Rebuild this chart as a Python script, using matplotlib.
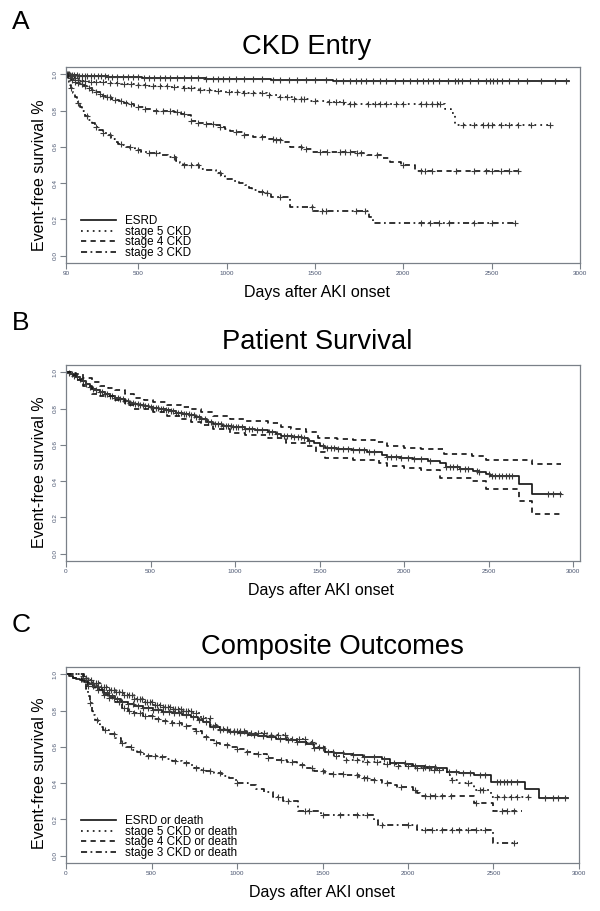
import numpy as np
import matplotlib
matplotlib.use("Agg")
import matplotlib.pyplot as plt

plt.rcParams['font.family'] = ['Liberation Sans', 'DejaVu Sans']

# Kaplan-Meier step points are stored as (day, survival) pairs; *_end = last follow-up day;
# *_c = censoring days (the '+' marks).

# ---------------- Panel A: CKD Entry ----------------
a_labels = ["ESRD", "stage 5 CKD", "stage 4 CKD", "stage 3 CKD"]
a_esrd = [(90, 1.0), (110, 0.997), (130, 0.994), (160, 0.992), (200, 0.99), (260, 0.988), (330, 0.986),
          (420, 0.984), (520, 0.982), (640, 0.98), (760, 0.978), (880, 0.976), (1000, 0.974),
          (1250, 0.97), (1600, 0.962)]
a_esrd_end = 2935
a_esrd_c = [95, 105, 115, 125, 135, 150, 165, 180, 195, 210, 230, 250, 270, 290, 310, 330, 350, 380,
            410, 440, 470, 500, 530, 560, 590, 620, 650, 680, 720, 760, 800, 840, 880, 920, 950, 980,
            1010, 1050, 1100, 1150, 1200, 1260, 1300, 1350, 1400, 1450, 1500, 1560, 1620, 1660, 1700,
            1730, 1760, 1790, 1830, 1870, 1900, 1950, 2000, 2040, 2080, 2110, 2140, 2170, 2200, 2250,
            2290, 2310, 2330, 2380, 2420, 2470, 2490, 2510, 2530, 2560, 2600, 2650, 2700, 2780, 2860, 2920]

a_s5 = [(90, 1.0), (110, 0.99), (130, 0.98), (148, 0.97), (180, 0.965), (220, 0.96), (278, 0.955),
        (330, 0.95), (400, 0.945), (473, 0.94), (560, 0.935), (668, 0.93), (760, 0.922), (841, 0.915),
        (920, 0.908), (993, 0.9), (1100, 0.894), (1230, 0.888), (1296, 0.877), (1380, 0.866),
        (1469, 0.855), (1560, 0.845), (1664, 0.835), (2238, 0.81), (2270, 0.785), (2292, 0.72)]
a_s5_end = 2844
a_s5_c = [100, 120, 140, 160, 180, 200, 230, 260, 300, 340, 380, 420, 460, 500, 540, 580, 620, 660,
          700, 760, 800, 850, 900, 950, 1010, 1060, 1100, 1150, 1200, 1240, 1300, 1340, 1380, 1420,
          1440, 1500, 1580, 1620, 1660, 1700, 1720, 1800, 1840, 1870, 1900, 1960, 2000, 2100, 2130,
          2160, 2190, 2210, 2340, 2400, 2450, 2480, 2500, 2550, 2600, 2650, 2720, 2830]

a_s4 = [(90, 1.0), (100, 0.99), (110, 0.98), (120, 0.97), (135, 0.96), (150, 0.952), (170, 0.945),
        (190, 0.935), (210, 0.925), (235, 0.912), (257, 0.9), (280, 0.89), (300, 0.88), (320, 0.872),
        (345, 0.866), (365, 0.86), (390, 0.85), (420, 0.843), (445, 0.835), (473, 0.825), (500, 0.82),
        (540, 0.81), (571, 0.8), (640, 0.795), (700, 0.79), (740, 0.783), (776, 0.775), (798, 0.74),
        (840, 0.733), (880, 0.727), (928, 0.72), (960, 0.71), (993, 0.7), (1020, 0.69), (1050, 0.68),
        (1100, 0.665), (1150, 0.657), (1230, 0.646), (1280, 0.637), (1318, 0.628), (1361, 0.6),
        (1426, 0.588), (1480, 0.573), (1729, 0.564), (1794, 0.555), (1880, 0.537), (1924, 0.518),
        (1989, 0.5), (2064, 0.469)]
a_s4_end = 2671
a_s4_c = [110, 125, 140, 160, 180, 200, 220, 240, 260, 280, 300, 320, 340, 370, 400, 430, 460, 500,
          540, 600, 640, 680, 720, 760, 800, 840, 880, 920, 960, 1050, 1100, 1200, 1260, 1280, 1300,
          1420, 1450, 1530, 1570, 1640, 1670, 1700, 1740, 1760, 1850, 2000, 2100, 2120, 2160, 2300,
          2400, 2470, 2500, 2550, 2600, 2650]

a_s3 = [(90, 1.0), (95, 0.985), (100, 0.97), (105, 0.955), (110, 0.94), (116, 0.925), (122, 0.91),
        (130, 0.895), (140, 0.875), (150, 0.855), (160, 0.84), (170, 0.82), (180, 0.8), (190, 0.785),
        (200, 0.77), (215, 0.75), (235, 0.73), (255, 0.71), (278, 0.692), (300, 0.678), (322, 0.665),
        (345, 0.645), (365, 0.628), (385, 0.618), (408, 0.61), (430, 0.6), (452, 0.592), (480, 0.58),
        (517, 0.571), (560, 0.564), (620, 0.556), (668, 0.546), (711, 0.52), (735, 0.51), (755, 0.5),
        (841, 0.48), (885, 0.47), (938, 0.454), (970, 0.44), (993, 0.423), (1036, 0.41), (1070, 0.4),
        (1101, 0.39), (1125, 0.375), (1144, 0.363), (1180, 0.352), (1209, 0.344), (1253, 0.326),
        (1361, 0.267), (1491, 0.249), (1805, 0.216), (1826, 0.18)]
a_s3_end = 2638
a_s3_c = [120, 160, 210, 260, 300, 340, 400, 450, 500, 560, 600, 700, 760, 800, 840, 960, 1200, 1230,
          1300, 1480, 1540, 1560, 1730, 1780, 2100, 2150, 2200, 2260, 2400, 2500, 2630]

# ---------------- Panel B: Patient Survival ----------------
b_surv = [(0, 1.0), (15, 0.995), (30, 0.99), (45, 0.982), (61, 0.975), (80, 0.962), (100, 0.95),
          (120, 0.935), (140, 0.918), (152, 0.909), (175, 0.9), (200, 0.89), (230, 0.88), (260, 0.87),
          (288, 0.86), (320, 0.85), (350, 0.84), (375, 0.833), (401, 0.827), (430, 0.82), (460, 0.813),
          (490, 0.808), (514, 0.805), (550, 0.797), (590, 0.79), (620, 0.784), (650, 0.778),
          (690, 0.77), (730, 0.762), (764, 0.755), (800, 0.742), (832, 0.727), (870, 0.716),
          (922, 0.704), (980, 0.697), (1058, 0.685), (1120, 0.68), (1194, 0.673), (1240, 0.66),
          (1273, 0.649), (1340, 0.643), (1398, 0.636), (1430, 0.622), (1466, 0.609), (1500, 0.595),
          (1534, 0.582), (1600, 0.576), (1693, 0.569), (1780, 0.562), (1851, 0.558), (1870, 0.545),
          (1897, 0.533), (1980, 0.528), (2055, 0.522), (2140, 0.512), (2214, 0.5), (2248, 0.476),
          (2330, 0.468), (2406, 0.458), (2440, 0.45), (2486, 0.442), (2509, 0.427), (2678, 0.385),
          (2758, 0.331)]
b_end = 2928
b_upper = [(0, 1.0), (30, 0.995), (61, 0.99), (100, 0.97), (152, 0.945), (200, 0.927), (250, 0.912),
           (288, 0.9), (350, 0.88), (401, 0.86), (460, 0.848), (514, 0.836), (600, 0.82), (680, 0.81),
           (741, 0.8), (800, 0.78), (870, 0.76), (968, 0.74), (1060, 0.73), (1194, 0.718), (1270, 0.7),
           (1330, 0.69), (1420, 0.67), (1489, 0.64), (1600, 0.632), (1700, 0.625), (1829, 0.613),
           (1897, 0.591), (2000, 0.585), (2100, 0.575), (2237, 0.549), (2400, 0.54), (2486, 0.515),
           (2758, 0.495)]
b_lower = [(0, 1.0), (30, 0.985), (61, 0.96), (100, 0.925), (152, 0.882), (200, 0.868), (288, 0.845),
           (350, 0.82), (401, 0.8), (514, 0.782), (600, 0.76), (680, 0.745), (741, 0.727), (800, 0.71),
           (870, 0.685), (968, 0.664), (1060, 0.652), (1194, 0.636), (1300, 0.612), (1420, 0.591),
           (1480, 0.56), (1534, 0.527), (1700, 0.515), (1851, 0.5), (1897, 0.482), (2000, 0.472),
           (2100, 0.46), (2214, 0.418), (2400, 0.4), (2486, 0.355), (2678, 0.291), (2758, 0.218)]
b_c = [20, 35, 50, 65, 80, 100, 120, 140, 160, 180, 200, 215, 230, 245, 260, 275, 290, 305, 320, 335,
       350, 365, 380, 395, 410, 425, 440, 455, 470, 485, 500, 515, 530, 545, 560, 575, 590, 605, 620,
       635, 650, 665, 680, 695, 710, 725, 740, 755, 770, 785, 800, 820, 840, 860, 880, 900, 915, 930,
       945, 960, 975, 990, 1005, 1020, 1040, 1060, 1080, 1100, 1130, 1160, 1200, 1220, 1250, 1290,
       1310, 1330, 1350, 1370, 1390, 1410, 1440, 1520, 1545, 1565, 1585, 1610, 1640, 1670, 1700,
       1730, 1760, 1790, 1820, 1900, 1925, 1950, 1980, 2020, 2060, 2100, 2150, 2250, 2270, 2290,
       2310, 2330, 2360, 2380, 2430, 2440, 2500, 2520, 2540, 2560, 2580, 2600, 2620, 2640, 2850,
       2880, 2920]

# ---------------- Panel C: Composite Outcomes ----------------
c_labels = ["ESRD or death", "stage 5 CKD or death", "stage 4 CKD or death", "stage 3 CKD or death"]
c_esrd = [(0, 1.0), (20, 0.99), (40, 0.982), (60, 0.975), (80, 0.967), (105, 0.958), (130, 0.945),
          (160, 0.93), (194, 0.912), (220, 0.898), (250, 0.88), (284, 0.861), (320, 0.848), (360, 0.835),
          (396, 0.824), (450, 0.813), (507, 0.802), (560, 0.793), (619, 0.784), (680, 0.775),
          (731, 0.766), (770, 0.75), (800, 0.735), (843, 0.711), (900, 0.695), (955, 0.683),
          (1010, 0.674), (1066, 0.665), (1120, 0.66), (1178, 0.656), (1230, 0.646), (1290, 0.637),
          (1350, 0.626), (1402, 0.615), (1450, 0.595), (1513, 0.573), (1570, 0.566), (1625, 0.56),
          (1680, 0.553), (1737, 0.546), (1849, 0.531), (1893, 0.513), (1983, 0.505), (2028, 0.496),
          (2100, 0.49), (2162, 0.482), (2229, 0.46), (2300, 0.455), (2385, 0.445), (2486, 0.408),
          (2687, 0.366), (2765, 0.317)]
c_esrd_end = 2933
c_esrd_c = [120, 150, 180, 210, 240, 270, 300, 330, 360, 390, 420, 450, 480, 510, 540, 570, 600, 630,
            660, 700, 740, 780, 820, 860, 900, 940, 980, 1020, 1060, 1100, 1150, 1200, 1250, 1300, 1350,
            1400, 1450, 1500, 1560, 1620, 1680, 1740, 1800, 1860, 1920, 1980, 2040, 2100, 2160, 2240,
            2280, 2320, 2360, 2420, 2450, 2520, 2540, 2560, 2580, 2600, 2640, 2800, 2850, 2880, 2920]

c_s5 = [(0, 1.0), (94, 1.0), (100, 0.99), (110, 0.98), (127, 0.967), (160, 0.95), (200, 0.93),
        (240, 0.915), (284, 0.903), (340, 0.885), (396, 0.866), (450, 0.848), (507, 0.83), (560, 0.82),
        (619, 0.811), (680, 0.798), (731, 0.784), (790, 0.76), (843, 0.72), (900, 0.7), (955, 0.687),
        (1066, 0.675), (1178, 0.665), (1290, 0.645), (1402, 0.628), (1460, 0.6), (1513, 0.573),
        (1570, 0.55), (1625, 0.527), (1737, 0.518), (1849, 0.505), (1940, 0.495), (2028, 0.482),
        (2130, 0.47), (2229, 0.445), (2260, 0.42), (2296, 0.4), (2385, 0.363), (2486, 0.326)]
c_s5_end = 2732
c_s5_c = [100, 115, 130, 145, 160, 175, 190, 205, 220, 235, 250, 265, 280, 295, 310, 325, 340, 355,
          370, 385, 400, 415, 430, 445, 460, 475, 490, 505, 520, 535, 550, 565, 580, 595, 610, 625,
          640, 655, 670, 685, 700, 715, 730, 760, 800, 840, 870, 900, 920, 940, 960, 980, 1000, 1020,
          1040, 1080, 1120, 1160, 1200, 1240, 1280, 1320, 1360, 1400, 1440, 1480, 1530, 1580, 1640,
          1700, 1760, 1820, 1880, 1940, 2000, 2050, 2090, 2120, 2150, 2180, 2260, 2350, 2420, 2440,
          2520, 2560, 2600, 2640, 2700]

c_s4 = [(0, 1.0), (40, 0.98), (94, 0.955), (130, 0.935), (172, 0.912), (220, 0.885), (250, 0.868),
        (284, 0.848), (330, 0.815), (360, 0.8), (396, 0.784), (450, 0.77), (507, 0.756), (560, 0.742),
        (619, 0.729), (680, 0.715), (731, 0.701), (760, 0.685), (798, 0.656), (830, 0.64), (865, 0.619),
        (900, 0.61), (955, 0.6), (1000, 0.588), (1044, 0.573), (1100, 0.56), (1178, 0.537),
        (1230, 0.528), (1290, 0.518), (1350, 0.5), (1402, 0.482), (1450, 0.468), (1513, 0.451),
        (1625, 0.445), (1715, 0.427), (1780, 0.42), (1849, 0.4), (1900, 0.388), (1938, 0.377),
        (2028, 0.363), (2050, 0.345), (2072, 0.33), (2385, 0.289), (2497, 0.244)]
c_s4_end = 2665
c_s4_c = [130, 160, 190, 220, 250, 280, 310, 340, 370, 400, 430, 460, 500, 540, 580, 620, 660, 700,
          760, 820, 880, 940, 1000, 1060, 1120, 1180, 1260, 1320, 1380, 1440, 1500, 1560, 1620, 1700,
          1740, 1760, 1800, 1880, 1960, 2040, 2100, 2130, 2160, 2200, 2250, 2400, 2550, 2580, 2620]

c_s3 = [(0, 1.0), (100, 1.0), (105, 0.97), (110, 0.95), (118, 0.92), (127, 0.88), (138, 0.84),
        (150, 0.8), (160, 0.775), (172, 0.747), (185, 0.725), (200, 0.71), (217, 0.692), (250, 0.67),
        (284, 0.647), (320, 0.62), (351, 0.6), (385, 0.585), (418, 0.573), (440, 0.56), (463, 0.55),
        (552, 0.546), (585, 0.535), (619, 0.524), (680, 0.51), (731, 0.5), (750, 0.485), (776, 0.473),
        (820, 0.465), (865, 0.454), (910, 0.44), (955, 0.427), (980, 0.415), (999, 0.403), (1066, 0.39),
        (1110, 0.37), (1156, 0.353), (1210, 0.325), (1268, 0.299), (1357, 0.244), (1491, 0.225),
        (1804, 0.198), (1826, 0.17), (2050, 0.143), (2497, 0.07)]
c_s3_end = 2643
c_s3_c = [140, 180, 230, 280, 330, 380, 430, 480, 520, 560, 640, 700, 760, 800, 840, 900, 1000, 1240,
          1300, 1400, 1420, 1500, 1600, 1700, 1760, 1850, 2000, 2100, 2140, 2200, 2260, 2300, 2350,
          2400, 2450, 2620]

# tick labels
a_xticks = [90, 500, 1000, 1500, 2000, 2500, 3000]
bc_xticks = [0, 500, 1000, 1500, 2000, 2500, 3000]
yticks = [0.0, 0.2, 0.4, 0.6, 0.8, 1.0]

# ---------------- drawing ----------------
W, H = 600, 911
fig = plt.figure(figsize=(W / 100, H / 100), dpi=100)

LINE = '#1a1a1a'
MARK = '#3a3a3a'
AXC = '#7a8088'
TICKC = '#4a5570'
LW = 1.25
styles = ['-', (0, (1, 2.4)), (0, (3, 2.5)), (0, (3.5, 2, 1, 2))]


def px_axes(l, t, r, b):
    return fig.add_axes([l / W, 1 - b / H, (r - l) / W, (b - t) / H])


def km(ax, pts, end, cens, ls, label=None):
    t = np.array([p[0] for p in pts], dtype=float)
    s = np.array([p[1] for p in pts], dtype=float)
    tt = np.append(t, end)
    ss = np.append(s, s[-1])
    ax.step(tt, ss, where='post', color=LINE, lw=LW, linestyle=ls, label=label)
    if cens is not None:
        c = np.asarray(cens, dtype=float)
        idx = np.clip(np.searchsorted(t, c, side='right') - 1, 0, len(s) - 1)
        ax.plot(c, s[idx], linestyle='none', marker='+', ms=4.4, mew=0.8, color=MARK)


def style_axes(ax, xlim, xticks):
    ax.set_xlim(*xlim)
    ax.set_ylim(-0.04, 1.04)
    ax.set_xticks(xticks)
    ax.set_xticklabels([str(v) for v in xticks])
    ax.set_yticks(yticks)
    ax.set_yticklabels([f"{v:.1f}" for v in yticks], rotation=90, va='center')
    ax.tick_params(direction='out', length=4, width=0.8, color=AXC, labelsize=4.6,
                   labelcolor=TICKC, pad=2)
    for sp in ax.spines.values():
        sp.set_color(AXC)
        sp.set_linewidth(0.9)


def legend(ax, anchor):
    return ax.legend(loc='lower left', bbox_to_anchor=anchor, frameon=False, fontsize=8.4,
                     handlelength=3.0, handletextpad=0.7, labelspacing=-0.12, borderpad=0,
                     borderaxespad=0)


# Panel A
axA = px_axes(66, 67, 580, 263)
km(axA, a_esrd, a_esrd_end, a_esrd_c, styles[0], a_labels[0])
km(axA, a_s5, a_s5_end, a_s5_c, styles[1], a_labels[1])
km(axA, a_s4, a_s4_end, a_s4_c, styles[2], a_labels[2])
km(axA, a_s3, a_s3_end, a_s3_c, styles[3], a_labels[3])
style_axes(axA, (90, 3000), a_xticks)
legend(axA, (0.03, 0.02))

# Panel B
axB = px_axes(66, 365, 580, 561)
km(axB, b_surv, b_end, b_c, styles[0])
km(axB, b_upper, b_end, None, styles[2])
km(axB, b_lower, b_end, None, styles[2])
style_axes(axB, (0, 3040), bc_xticks)

# Panel C
axC = px_axes(66, 667, 579, 863)
km(axC, c_esrd, c_esrd_end, c_esrd_c, styles[0], c_labels[0])
km(axC, c_s5, c_s5_end, c_s5_c, styles[1], c_labels[1])
km(axC, c_s4, c_s4_end, c_s4_c, styles[2], c_labels[2])
km(axC, c_s3, c_s3_end, c_s3_c, styles[3], c_labels[3])
style_axes(axC, (0, 3000), bc_xticks)
legend(axC, (0.03, 0.02))


def ftext(x, y, s, **kw):
    fig.text(x / W, 1 - y / H, s, ha='center', va='center', **kw)


TS = 19.7
for (letter, ly), (title, tx, ty), (xl_x, xl_y), yl_y in [
        (("A", 22), ("CKD Entry", 307, 47), (317, 293), 175),
        (("B", 323), ("Patient Survival", 317, 342), (321, 591), 472),
        (("C", 625), ("Composite Outcomes", 332, 647), (322, 893), 773)]:
    ftext(21, ly, letter, fontsize=19)
    ftext(tx, ty, title, fontsize=TS)
    ftext(xl_x, xl_y, "Days after AKI onset", fontsize=11.5)
    ftext(40, yl_y, "Event-free survival %", fontsize=11.5, rotation=90)

fig.savefig("out.png", dpi=100, facecolor='white')
